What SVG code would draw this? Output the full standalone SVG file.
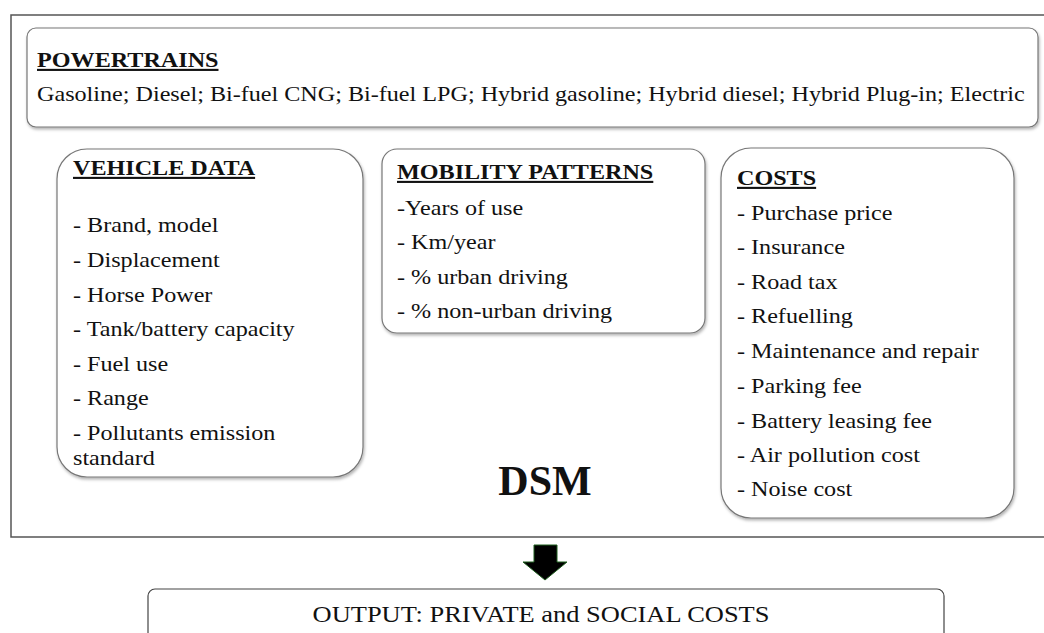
<svg xmlns="http://www.w3.org/2000/svg" width="1044" height="633" viewBox="0 0 1044 633" font-family="'Liberation Serif', 'Times New Roman', serif">
  <defs>
    <filter id="shadow" x="-5%" y="-5%" width="110%" height="115%">
      <feDropShadow dx="1" dy="2" stdDeviation="1.5" flood-color="#000" flood-opacity="0.3"/>
    </filter>
  </defs>
  <style>
    .head { font-size: 21px; font-weight: bold; text-decoration: underline; fill: #111; }
    .item { font-size: 21px; fill: #111; }
    .panel { fill: #fff; stroke: #777; stroke-width: 1.2; filter: url(#shadow); }
    .frame { fill: #fff; stroke: #555; stroke-width: 1.5; }
  </style>

  <rect width="1044" height="633" fill="#fff"/>

  <!-- DSM frame -->
  <g id="dsm">
    <rect class="frame" x="11" y="15" width="1045" height="522"/>
    <text x="545" y="495" text-anchor="middle" font-size="42" font-weight="bold" fill="#111">DSM</text>
  </g>

  <!-- Powertrains (text set slightly wide) -->
  <g id="powertrains">
    <rect class="panel" x="27" y="28" width="1011" height="99" rx="9"/>
    <g transform="translate(37,0) scale(1.15,1)">
      <text class="head" x="0" y="67">POWERTRAINS</text>
      <text class="item" x="0" y="101">Gasoline; Diesel; Bi-fuel CNG; Bi-fuel LPG; Hybrid gasoline; Hybrid diesel; Hybrid Plug-in; Electric</text>
    </g>
  </g>

  <!-- Vehicle data -->
  <g id="vehicle-data">
    <rect class="panel" x="57" y="149" width="306" height="328" rx="30"/>
    <g transform="translate(73,0) scale(1.15,1)">
      <text class="head" x="0" y="175">VEHICLE DATA</text>
      <text class="item" x="0" y="232">- Brand, model</text>
      <text class="item" x="0" y="267">- Displacement</text>
      <text class="item" x="0" y="302">- Horse Power</text>
      <text class="item" x="0" y="336">- Tank/battery capacity</text>
      <text class="item" x="0" y="371">- Fuel use</text>
      <text class="item" x="0" y="405">- Range</text>
      <text class="item" x="0" y="440">- Pollutants emission</text>
      <text class="item" x="0" y="465">standard</text>
    </g>
  </g>

  <!-- Mobility patterns -->
  <g id="mobility-patterns">
    <rect class="panel" x="382" y="149" width="323" height="184" rx="15"/>
    <g transform="translate(397,0) scale(1.15,1)">
      <text class="head" x="0" y="179">MOBILITY PATTERNS</text>
      <text class="item" x="0" y="215">-Years of use</text>
      <text class="item" x="0" y="249">- Km/year</text>
      <text class="item" x="0" y="284">- % urban driving</text>
      <text class="item" x="0" y="318">- % non-urban driving</text>
    </g>
  </g>

  <!-- Costs -->
  <g id="costs">
    <rect class="panel" x="721" y="148" width="293" height="370" rx="30"/>
    <g transform="translate(737,0) scale(1.15,1)">
      <text class="head" x="0" y="185">COSTS</text>
      <text class="item" x="0" y="220">- Purchase price</text>
      <text class="item" x="0" y="254">- Insurance</text>
      <text class="item" x="0" y="289">- Road tax</text>
      <text class="item" x="0" y="323">- Refuelling</text>
      <text class="item" x="0" y="358">- Maintenance and repair</text>
      <text class="item" x="0" y="393">- Parking fee</text>
      <text class="item" x="0" y="428">- Battery leasing fee</text>
      <text class="item" x="0" y="462">- Air pollution cost</text>
      <text class="item" x="0" y="496">- Noise cost</text>
    </g>
  </g>

  <!-- Connector: DSM to output -->
  <g id="connectors">
    <path d="M534,545 H557 V562 H567 L545,580 L523,562 H534 Z" fill="#000" stroke="#1f5e1f" stroke-width="1"/>
  </g>

  <!-- Output -->
  <g id="output">
    <rect x="148" y="589" width="796" height="60" rx="7" fill="#fff" stroke="#444" stroke-width="1.2"/>
    <g transform="translate(541,0) scale(1.15,1)">
      <text x="0" y="622" text-anchor="middle" font-size="23" fill="#111">OUTPUT: PRIVATE and SOCIAL COSTS</text>
    </g>
  </g>
</svg>
